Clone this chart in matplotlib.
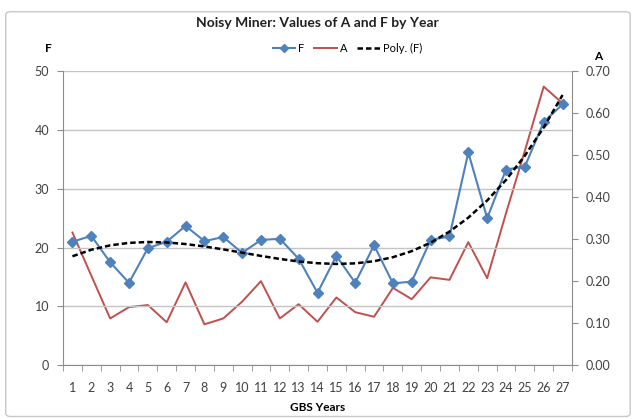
import numpy as np
import matplotlib
matplotlib.use("Agg")
from matplotlib import pyplot as plt
from matplotlib.patches import FancyBboxPatch
from matplotlib.lines import Line2D

plt.rcParams['font.family'] = ['Lato', 'DejaVu Sans']

# GBS year index
years = np.arange(1, 28)

# F values (left axis)
f_vals = [21.0, 22.0, 17.5, 14.0, 19.9, 21.0, 23.7, 21.1, 21.8, 19.1,
          21.3, 21.5, 18.1, 12.3, 18.6, 14.0, 20.4, 13.9, 14.2, 21.3,
          21.9, 36.2, 25.0, 33.3, 33.8, 41.4, 44.4]

# A values (right axis)
a_vals = [0.316, 0.213, 0.111, 0.138, 0.143, 0.102, 0.197, 0.097, 0.111, 0.151,
          0.200, 0.111, 0.145, 0.103, 0.161, 0.126, 0.115, 0.184, 0.157, 0.209,
          0.203, 0.293, 0.207, 0.362, 0.511, 0.664, 0.624]

blue = '#4F81BD'
red = '#C0504D'
grey = '#8C8C8C'

fig = plt.figure(figsize=(6.34, 4.19), dpi=100)

# chart area border
frame = FancyBboxPatch((0.009, 0.006), 0.985, 0.966, boxstyle="round,pad=0,rounding_size=0.008",
                       transform=fig.transFigure, fill=False, edgecolor='#C8C8C8', lw=1.0)
fig.patches.append(frame)

ax = fig.add_axes([0.0994, 0.1289, 0.8028, 0.7005])
ax2 = ax.twinx()

# polynomial trend of F (order 3)
coef = np.polyfit(years, f_vals, 3)
trend = np.polyval(coef, years)

ax.plot(years, f_vals, color=blue, lw=1.5, marker='D', ms=5, zorder=3)
ax2.plot(years, a_vals, color=red, lw=1.4, zorder=2)
ax.plot(years, trend, color='black', lw=1.8, ls=(0, (2.2, 1.2)), zorder=4)
ax.set_zorder(ax2.get_zorder() + 1)
ax.patch.set_visible(False)

ax.set_xlim(0.5, 27.5)
ax.set_ylim(0, 50)
ax2.set_ylim(0, 0.70)
ax.set_yticks(range(0, 51, 10))
ax2.set_yticks(np.arange(0, 0.71, 0.10))
ax2.set_yticklabels([f"{v:.2f}" for v in np.arange(0, 0.71, 0.10)])
ax.set_xticks(years)
ax.set_xticks(np.arange(0.5, 28, 1), minor=True)

ax.grid(axis='y', color='#C4C4C4', lw=1.0)
ax.set_axisbelow(True)

for a in (ax, ax2):
    for s in a.spines.values():
        s.set_visible(False)
ax.spines['left'].set_visible(True)
ax.spines['left'].set_color(grey)
ax.spines['bottom'].set_visible(True)
ax.spines['bottom'].set_color(grey)
ax2.spines['right'].set_visible(True)
ax2.spines['right'].set_color(grey)

ax.tick_params(axis='x', which='major', length=0, labelsize=9, colors='#404040', pad=12)
ax.tick_params(axis='x', which='minor', length=4, color=grey)
ax.tick_params(axis='y', length=4, color=grey, labelsize=9, labelcolor='#404040', pad=6)
ax2.tick_params(axis='y', length=4, color=grey, labelsize=9, labelcolor='#404040', pad=6)

ax.set_xlabel('GBS Years', fontsize=8.5, fontweight='bold', labelpad=6)

fig.text(0.5, 0.945, 'Noisy Miner: Values of A and F by Year', ha='center', va='center',
         fontsize=10, fontweight='bold', color='#202020')
fig.text(0.076, 0.885, 'F', ha='center', va='center', fontsize=8.5, fontweight='bold')
fig.text(0.944, 0.864, 'A', ha='center', va='center', fontsize=8.5, fontweight='bold')

handles = [Line2D([], [], color=blue, lw=1.5, marker='D', ms=4),
           Line2D([], [], color=red, lw=1.4),
           Line2D([], [], color='black', lw=1.8, ls=(0, (2.2, 1.2)))]
fig.legend(handles, ['F', 'A', 'Poly. (F)'], loc='center', bbox_to_anchor=(0.548, 0.885),
           ncol=3, frameon=False, fontsize=8, handlelength=2.0, columnspacing=0.9,
           handletextpad=0.3)

fig.savefig('out.png', dpi=100)
